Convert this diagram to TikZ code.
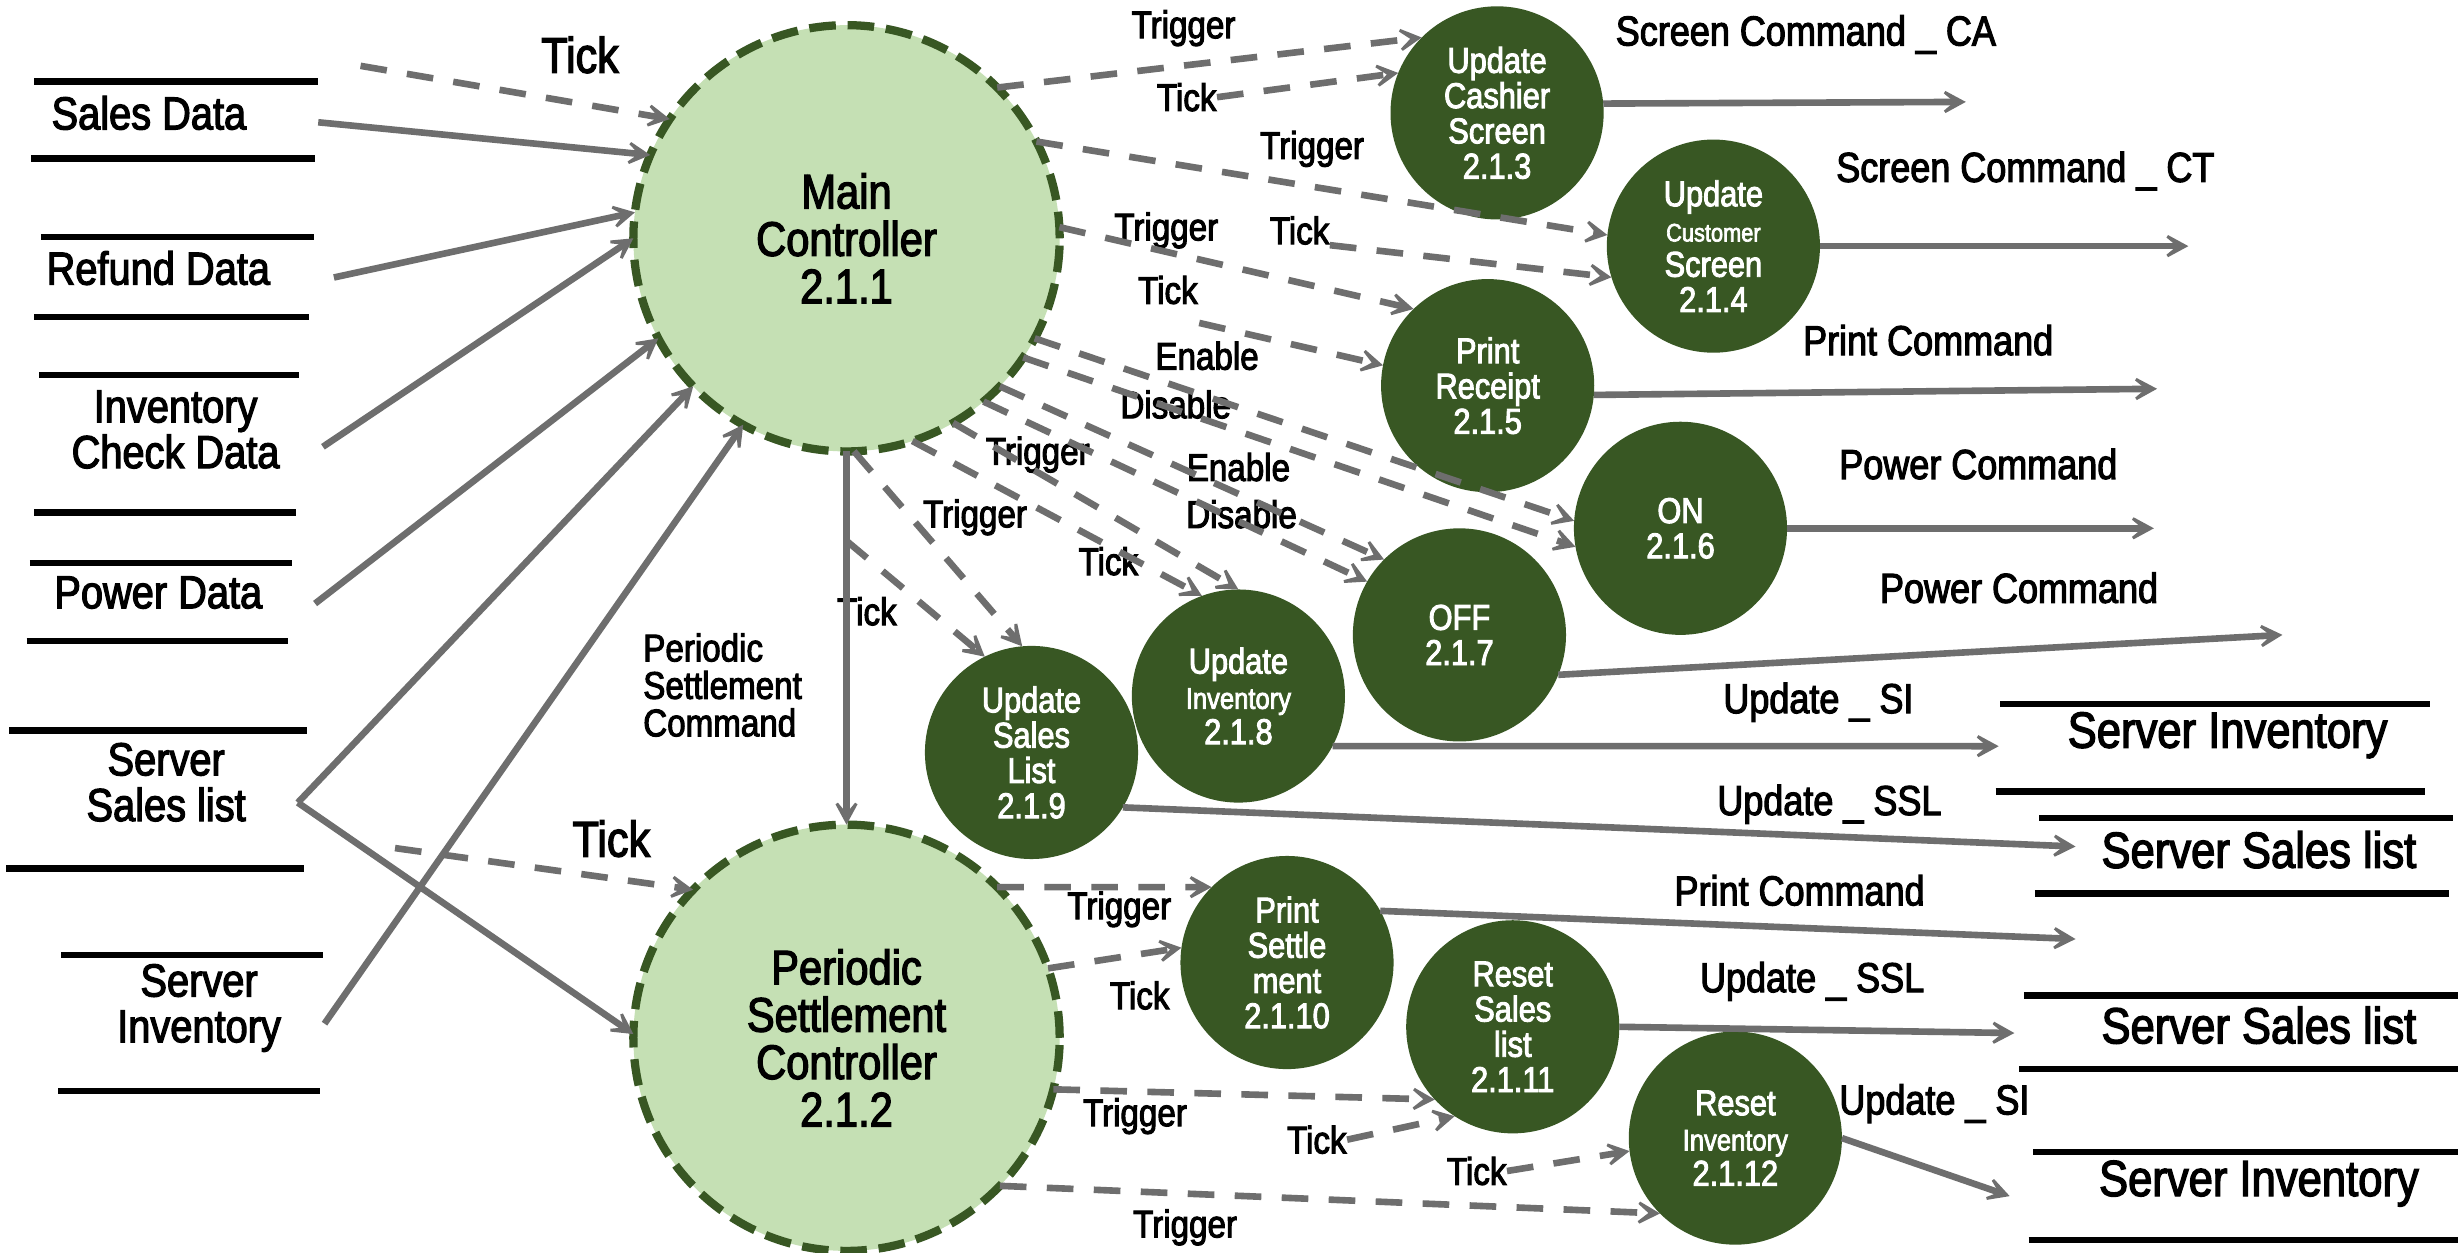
\documentclass[tikz,border=0pt]{standalone}
\usepackage{fontspec}
\setmainfont{Liberation Sans}[FakeStretch=0.86,FakeBold=2.6]
\usetikzlibrary{arrows.meta}
\definecolor{ltgreen}{RGB}{197,224,180}
\definecolor{dkgreen}{RGB}{56,87,35}
\definecolor{arrgray}{RGB}{110,110,110}
\newcommand\fedge{\fontsize{14}{13}\selectfont}
\newcommand\fcmd{\fontsize{15.2}{15}\selectfont}
\newcommand\fstoreL{\fontsize{16.8}{16.6}\selectfont}
\newcommand\fstoreR{\fontsize{18.4}{18}\selectfont}
\newcommand\fcirc{\fontsize{13}{12.8}\selectfont}
\newcommand\fbig{\fontsize{18.2}{17}\selectfont}
\newcommand\fctrl{\fontsize{17.6}{17.2}\selectfont}
\begin{document}
\begin{tikzpicture}[x=0.02cm,y=-0.02cm,
  storeline/.style={line width=2.3pt,black},
  arr/.style={draw=arrgray,line width=2.4pt,-{Stealth[length=12pt,width=13pt,inset=7.8pt]}},
  darr/.style={arr,dash pattern=on 0.34cm off 0.26cm},
  proc/.style={circle,fill=dkgreen,minimum size=2.72cm,inner sep=0pt,outer sep=0pt,text=white,align=center,font=\fcirc},
  ctrl/.style={circle,fill=ltgreen,draw=dkgreen,line width=3pt,dash pattern=on 0.34cm off 0.15cm,minimum size=5.44cm,inner sep=0pt,outer sep=0pt,align=center,font=\fctrl},
  elab/.style={font=\fedge,inner sep=0pt},
  blab/.style={font=\fbig,inner sep=0pt},
  clab/.style={font=\fcmd,inner sep=0pt},
  slab/.style={font=\fstoreL,align=center,inner sep=0pt},
  rlab/.style={font=\fstoreR,inner sep=0pt},
]
\fill[white] (0,0) rectangle (1568,799);
\useasboundingbox (0,0) rectangle (1568,799);

% ---------- left data stores ----------
\draw[storeline] (22,52) -- (203,52);  \draw[storeline] (20,101) -- (201,101);
\draw[storeline] (26,151) -- (200,151); \draw[storeline] (22,202) -- (197,202);
\draw[storeline] (25,239) -- (191,239); \draw[storeline] (22,327) -- (189,327);
\draw[storeline] (19,359) -- (186,359); \draw[storeline] (17,409) -- (184,409);
\draw[storeline] (6,466) -- (196,466);  \draw[storeline] (4,554) -- (194,554);
\draw[storeline] (39,609) -- (206,609); \draw[storeline] (37,696) -- (204,696);
\node[slab] (sales) at (95,72) {Sales Data};
\node[slab] (refund) at (101,171) {Refund Data};
\node[slab] (invchk) at (112,274) {Inventory\\Check Data};
\node[slab] (power) at (101,378) {Power Data};
\node[slab] (sslL) at (106,499) {Server\\Sales list};
\node[slab] (siL) at (127,643) {Server\\Inventory};

% ---------- right data stores ----------
\draw[storeline] (1276,449) -- (1550,449); \draw[storeline] (1273,505) -- (1547,505);
\draw[storeline] (1301,522) -- (1565,522); \draw[storeline] (1298,570) -- (1562,570);
\draw[storeline] (1291,635) -- (1568,635); \draw[storeline] (1288,682) -- (1568,682);
\draw[storeline] (1297,735) -- (1568,735); \draw[storeline] (1294,791) -- (1568,791);
\node[rlab] (siR1) at (1421,469) {Server Inventory};
\node[rlab] (sslR1) at (1441,542) {Server Sales list};
\node[rlab] (sslR2) at (1441,654) {Server Sales list};
\node[rlab] (siR2) at (1441,755) {Server Inventory};

% ---------- controllers ----------
\node[ctrl] (mc) at (540,152) {Main\\Controller\\2.1.1};
\node[ctrl] (psc) at (540,662) {Periodic\\Settlement\\Controller\\2.1.2};

% ---------- processes ----------
\node[proc] (p213) at (955,72) {Update\\Cashier\\Screen\\2.1.3};
\node[proc] (p214) at (1093,157) {Update\\{\fontsize{9.2}{9}\selectfont Customer}\\Screen\\2.1.4};
\node[proc] (p215) at (949,246) {Print\\Receipt\\2.1.5};
\node[proc] (p216) at (1072,337) {ON\\2.1.6};
\node[proc] (p217) at (931,405) {OFF\\2.1.7};
\node[proc] (p218) at (790,444) {Update\\{\fontsize{10.8}{10}\selectfont Inventory}\\2.1.8};
\node[proc] (p219) at (658,480) {Update\\Sales\\List\\2.1.9};
\node[proc] (p2110) at (821,614) {Print\\Settle\\ment\\2.1.10};
\node[proc] (p2111) at (965,655) {Reset\\Sales\\list\\2.1.11};
\node[proc] (p2112) at (1107,726) {Reset\\{\fontsize{10.8}{10}\selectfont Inventory}\\2.1.12};

% ---------- labels ----------
\node[blab] (tkmc) at (370,35) {Tick};
\node[blab] (tkpsc) at (390,535) {Tick};
\node[font=\fontsize{14}{13.6}\selectfont,align=left,anchor=west,inner sep=0pt] (psclab) at (410,437) {Periodic\\Settlement\\Command};
\node[elab] (lT1) at (755,18) {Trigger};
\node[elab] (lK1) at (757,62) {Tick};
\node[elab] (lT2) at (837,95) {Trigger};
\node[elab] (lT3) at (744,147) {Trigger};
\node[elab] (lK2) at (829,147) {Tick};
\node[elab] (lK3) at (745,185) {Tick};
\node[elab] (lE1) at (770,227) {Enable};
\node[elab] (lD1) at (750,258) {Disable};
\node[elab] (lT4) at (662,290) {Trigger};
\node[elab] (lE2) at (790,298) {Enable};
\node[elab] (lT5) at (622,330) {Trigger};
\node[elab] (lD2) at (792,328) {Disable};
\node[elab] (lK4) at (707,358) {Tick};
\node[elab] (lK5) at (553,390) {Tick};
\node[elab] (lT6) at (714,580) {Trigger};
\node[elab] (lK6) at (727,635) {Tick};
\node[elab] (lT7) at (724,712) {Trigger};
\node[elab] (lK7) at (840,727) {Tick};
\node[elab] (lK8) at (942,747) {Tick};
\node[elab] (lT8) at (756,783) {Trigger};

\node[clab] (c213) at (1152,22) {Screen Command \_ CA};
\node[clab] (c214) at (1292,109) {Screen Command \_ CT};
\node[clab] (c215) at (1230,217) {Print Command};
\node[clab] (c216) at (1262,296) {Power Command};
\node[clab] (c217) at (1288,375) {Power Command};
\node[clab] (c218) at (1160,448) {Update \_ SI};
\node[clab] (c219) at (1167,513) {Update \_ SSL};
\node[clab] (c2110) at (1148,568) {Print Command};
\node[clab] (c2111) at (1156,626) {Update \_ SSL};
\node[clab] (c2112) at (1234,704) {Update \_ SI};

% ---------- free ends ----------
\coordinate (sA) at (203,78);
\coordinate (sB) at (213,177);
\coordinate (sC) at (206,285);
\coordinate (sD) at (201,385);
\coordinate (sE) at (190,512);
\coordinate (sF) at (207,653);
\coordinate (tA) at (230,42);
\coordinate (tB) at (252,541);
\coordinate (t215s) at (765,206);
\coordinate (t219s) at (540,345);
\coordinate (o213) at (1254,65);
\coordinate (o214) at (1396,157);
\coordinate (o215) at (1376,248);
\coordinate (o216) at (1374,337);
\coordinate (o217) at (1456,405);
\coordinate (o218) at (1275,476);
\coordinate (o219) at (1324,540);
\coordinate (o2110) at (1324,599);
\coordinate (o2111) at (1285,659);
\coordinate (o2112) at (1282,763);

% ---------- inputs ----------
\draw[arr] (sA) -- (mc.157.8);
\draw[arr] (sB) -- (mc.173.7);
\draw[arr] (sC) -- (mc.180);
\draw[arr] (sD) -- (mc.208.1);
\draw[arr] (sE) -- (mc.224.4);
\draw[arr] (sE) -- (psc.179);
\draw[arr] (sF) -- (mc.241.7);
\draw[darr] (tA) -- (mc.146.1);
\draw[darr] (tB) -- (psc.136.5);
\draw[arr] (mc.270) -- (psc.90);

% ---------- main controller outputs ----------
\draw[darr] (mc.45) -- (p213.135);
\draw[darr] (lK1.east) -- (p213.158);
\draw[darr] (mc.27.1) -- (p214.174.3);
\draw[darr] (lK2.south east) -- (p214.197.3);
\draw[darr] (mc.3.4) -- (p215.134.4);
\draw[darr] (t215s) -- (p215.169.3);
\draw[darr] (mc.-28.9) -- (p216.176);
\draw[darr] (mc.-34.1) -- (p216.190);
\draw[darr] (mc.-44.7) -- (p217.135.6);
\draw[darr] (mc.-50.3) -- (p217.150.6);
\draw[darr] (mc.-60.4) -- (p218.90);
\draw[darr] (mc.-72) -- (p218.110.2);
\draw[darr] (mc.-88.7) -- (p219.95);
\draw[darr] (t219s) -- (p219.116);

% ---------- periodic settlement outputs ----------
\draw[darr] (psc.45) -- (p2110.135.6);
\draw[darr] (psc.19.3) -- (p2110.172.3);
\draw[darr] (psc.-14.8) -- (p2111.223.3);
\draw[darr] (lK7.east) -- (p2111.237.5);
\draw[darr] (psc.-44.4) -- (p2112.225);
\draw[darr] (lK8.east) -- (p2112.187.4);

% ---------- process outputs ----------
\draw[arr] (p213.5.9) -- (o213);
\draw[arr] (p214.0) -- (o214);
\draw[arr] (p215.-5.9) -- (o215);
\draw[arr] (p216.0) -- (o216);
\draw[arr] (p217.-22.3) -- (o217);
\draw[arr] (p218.-28.9) -- (o218);
\draw[arr] (p219.-31.7) -- (o219);
\draw[arr] (p2110.29.4) -- (o2110);
\draw[arr] (p2111.0.8) -- (o2111);
\draw[arr] (p2112.0.8) -- (o2112);
\end{tikzpicture}
\end{document}
